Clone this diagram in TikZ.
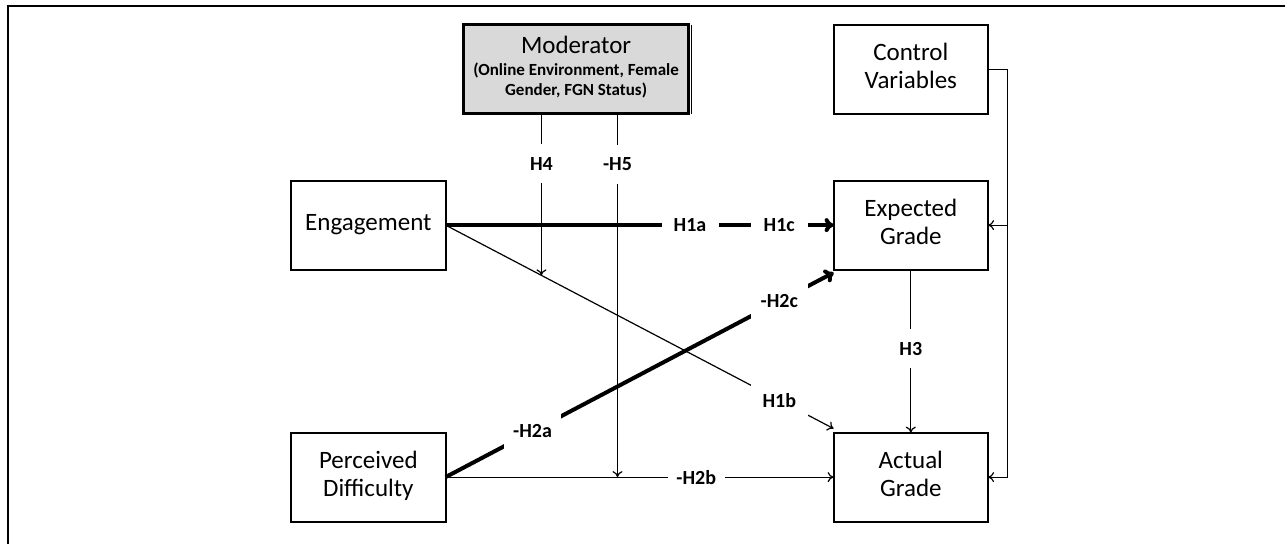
\documentclass[tikz,border=0pt]{standalone}
\usepackage{fontspec}
\setmainfont{Carlito}
\usepackage{xcolor}
\usepackage{tikz}
\usetikzlibrary{matrix,calc,arrows.meta}

\newcommand{\modsub}[1]{{\bfseries\fontsize{8.5}{10}\selectfont #1}}
\newcommand{\twoline}[2]{\begin{tabular}{@{}c@{}}#1\\#2\end{tabular}}

\begin{document}
\begin{tikzpicture}[x=0.5pt, y=-0.5pt, line width=.6pt, >={To[length=3pt, width=5pt]},
		box/.style={draw, line width=.9pt, minimum width=77.25pt, minimum height=44.5pt, inner sep=2pt, outer sep=0pt, anchor=center, font=\fontsize{12.5}{14}\selectfont},
		mod/.style={fill=black!15, line width=1.2pt, minimum width=112.5pt},
		lbl/.style={fill=white, inner sep=0pt, minimum width=28.5pt, minimum height=19.5pt, font=\bfseries\fontsize{10}{12}\selectfont},
		heavy/.style={line width=2pt, >={To[length=4.5pt, width=7pt]}}]
					\useasboundingbox (0,0) rectangle (1285,543);
					\draw[line width=1.2pt] (8,560) |- (1300,6);
					\matrix(m)[matrix of nodes, nodes={box}, column sep=0pt, row sep=0pt, inner sep=0pt, anchor=north west] at (289.6,22.8) {
							&[7.95pt] |[mod]| {\begin{tabular}{@{}c@{}}Moderator\\[-3pt]\modsub{(Online Environment, Female}\\[-4pt]\modsub{Gender, FGN Status)}\end{tabular}} &[71.45pt] \twoline{Control}{Variables} \\[32.45pt]
						Engagement &[7.95pt] &[71.45pt] \twoline{Expected}{Grade} \\[80.6pt]
						\twoline{Perceived}{Difficulty} &[7.95pt] &[71.45pt] \twoline{Actual}{Grade} \\
					};
					\draw ([xshift=1.5pt]m-1-2.north east) -- ([xshift=1.5pt]m-1-2.south east);
					% control variables
					\coordinate (rail) at ($(m-1-3.east)+(19,0)$);
					\draw[->] (m-1-3.east) -- (rail) |- (m-3-3.east);
					\draw[->] (rail |- m-2-3.east) -- (m-2-3.east);
					% engagement
					\coordinate (h1b) at ($(m-3-3.north west)+(0,-4)$);
					\draw[heavy, ->] (m-2-1.east) -- node[lbl, pos=.63]{H1a} node[lbl, pos=.86]{H1c} (m-2-3.west);
					\draw[->] (m-2-1.east) -- node[lbl, pos=.86]{H1b} (h1b);
					% perceived difficulty
					\coordinate (h2c) at ($(m-2-3.south west)+(0,3)$);
					\draw[heavy, ->] (m-3-1.east) -- node[lbl, pos=.224]{-H2a} node[lbl, pos=.86]{-H2c} (h2c);
					\draw[->] (m-3-1.east) -- node[lbl, pos=.646]{-H2b} (m-3-3.west);
					% grades
					\draw[->] (m-2-3.south) -- node[lbl, pos=.485]{H3} (m-3-3.north);
					% moderator
					\path (m-2-1.east) -- (h1b) coordinate[pos=.247] (h4);
					\path (m-3-1.east) -- (m-3-3.west) coordinate[pos=.443] (h5);
					\draw[->] (m-1-2.south -| h4) -- node[lbl, pos=.31]{H4} (h4);
					\draw[->] (m-1-2.south -| h5) -- node[lbl, pos=.14]{-H5} (h5);
				\end{tikzpicture}
\end{document}
